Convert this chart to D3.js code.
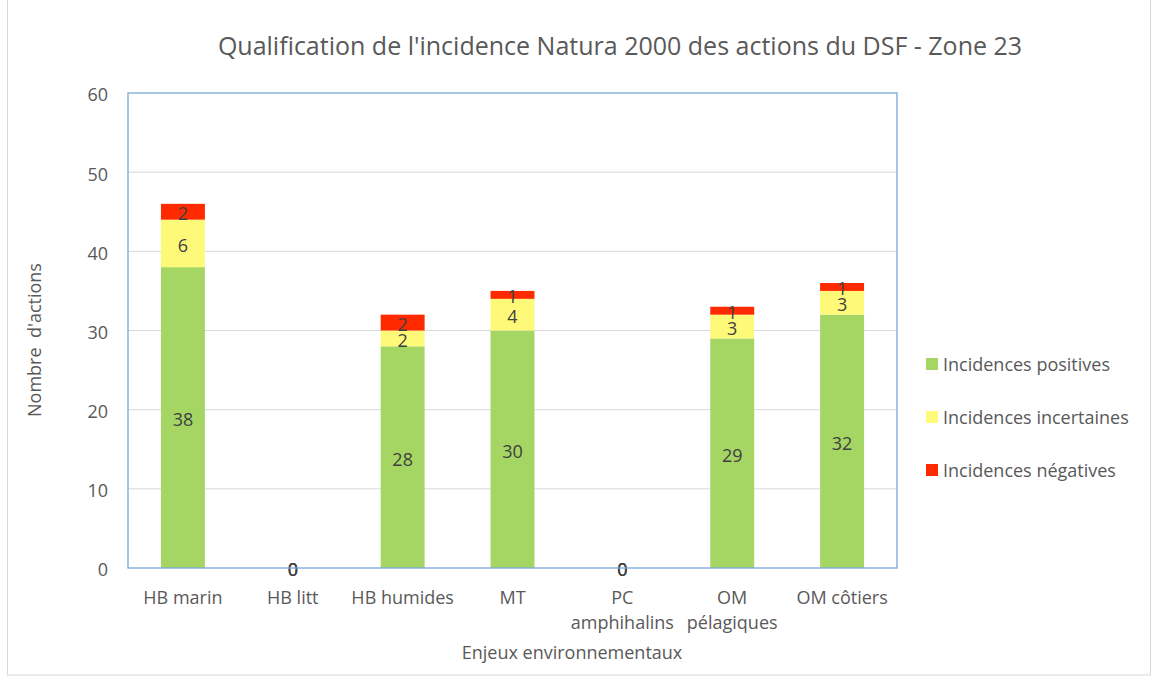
<!DOCTYPE html>
<html lang="fr">
<head>
<meta charset="UTF-8">
<title>Qualification de l'incidence Natura 2000</title>
<style>
  body { margin: 0; background: #fff; }
  svg text { font-family: "Open Sans", "Noto Sans", sans-serif; }
</style>
</head>
<body>
<svg width="1158" height="677"></svg>
<script src="https://cdn.jsdelivr.net/npm/d3@7"></script>
<script>
// categories (tick labels split on line breaks)
var categories = ["HB marin", "HB litt", "HB humides", "MT", "PC amphihalins", "OM pélagiques", "OM côtiers"];
var tickLabels = [["HB marin"], ["HB litt"], ["HB humides"], ["MT"], ["PC", "amphihalins"], ["OM", "pélagiques"], ["OM côtiers"]];

var positives = [38, 0, 28, 30, 0, 29, 32];
var incertaines = [6, 0, 2, 4, 0, 3, 3];
var negatives = [2, 0, 2, 1, 0, 1, 1];

var seriesNames = ["Incidences positives", "Incidences incertaines", "Incidences négatives"];
var seriesColors = ["#a5d664", "#fff97a", "#ff2a00"];
var yTicks = [0, 10, 20, 30, 40, 50, 60];

var fs = 18; // base font size

var svg = d3.select("svg");

// outer chart border
svg.append("rect")
    .attr("x", 7.5).attr("y", -1)
    .attr("width", 1143).attr("height", 676)
    .attr("fill", "none")
    .attr("stroke", "#d9d9d9");

var margin = {left: 128, top: 93, right: 897, bottom: 568};

var x = d3.scaleBand()
    .domain(categories)
    .range([margin.left, margin.right])
    .paddingInner(0.6)
    .paddingOuter(0.3);

var y = d3.scaleLinear()
    .domain([0, 60])
    .range([margin.bottom, margin.top]);

// grid lines
svg.append("g")
    .selectAll("line")
    .data(yTicks.slice(1, -1))
    .enter()
    .append("line")
    .attr("x1", margin.left).attr("x2", margin.right)
    .attr("y1", function(d) { return y(d); })
    .attr("y2", function(d) { return y(d); })
    .attr("stroke", "#d9d9d9")
    .attr("stroke-width", 1);

// stacked data
var rows = categories.map(function(c, i) {
    return {cat: c, pos: positives[i], inc: incertaines[i], neg: negatives[i]};
});
var stack = d3.stack().keys(["pos", "inc", "neg"]);
var layers = stack(rows);

var gBars = svg.append("g");
layers.forEach(function(layer, li) {
    gBars.selectAll(".bar" + li)
        .data(layer)
        .enter()
        .append("rect")
        .attr("x", function(d) { return x(d.data.cat); })
        .attr("width", x.bandwidth())
        .attr("y", function(d) { return y(d[1]); })
        .attr("height", function(d) { return y(d[0]) - y(d[1]); })
        .attr("fill", seriesColors[li]);
});

// segment labels
layers.forEach(function(layer, li) {
    gBars.selectAll(".lab" + li)
        .data(layer.filter(function(d) { return d[1] - d[0] > 0; }))
        .enter()
        .append("text")
        .attr("x", function(d) { return x(d.data.cat) + x.bandwidth() / 2; })
        .attr("y", function(d) { return (y(d[0]) + y(d[1])) / 2 + 2; })
        .attr("dy", "0.36em")
        .attr("text-anchor", "middle")
        .attr("font-size", fs)
        .attr("fill", "#404040")
        .text(function(d) { return d[1] - d[0]; });
});

// zero labels (three overlapping zeros)
layers.forEach(function(layer) {
    gBars.selectAll(null)
        .data(layer.filter(function(d) { return d[1] - d[0] === 0; }))
        .enter()
        .append("text")
        .attr("x", function(d) { return x(d.data.cat) + x.bandwidth() / 2; })
        .attr("y", y(0) + 2)
        .attr("dy", "0.36em")
        .attr("text-anchor", "middle")
        .attr("font-size", fs)
        .attr("fill", "#404040")
        .text("0");
});

// plot frame
svg.append("rect")
    .attr("x", margin.left).attr("y", margin.top)
    .attr("width", margin.right - margin.left)
    .attr("height", margin.bottom - margin.top)
    .attr("fill", "none")
    .attr("stroke", "#7ba7d7")
    .attr("stroke-width", 1.3);

// y axis labels
svg.append("g")
    .selectAll("text")
    .data(yTicks)
    .enter()
    .append("text")
    .attr("x", 108)
    .attr("y", function(d) { return y(d) + 2; })
    .attr("dy", "0.36em")
    .attr("text-anchor", "end")
    .attr("font-size", fs)
    .attr("fill", "#595959")
    .text(function(d) { return d; });

// x axis labels
var xl = svg.append("g")
    .selectAll("text")
    .data(categories)
    .enter()
    .append("text")
    .attr("x", function(d) { return x(d) + x.bandwidth() / 2; })
    .attr("y", 604)
    .attr("text-anchor", "middle")
    .attr("font-size", fs)
    .attr("fill", "#595959");
xl.each(function(d, i) {
    var t = d3.select(this);
    tickLabels[i].forEach(function(line, k) {
        t.append("tspan")
            .attr("x", x(d) + x.bandwidth() / 2)
            .attr("dy", k === 0 ? 0 : 25)
            .text(line);
    });
});

// axis titles
svg.append("text")
    .attr("x", 572).attr("y", 659)
    .attr("text-anchor", "middle")
    .attr("font-size", fs)
    .attr("fill", "#595959")
    .text("Enjeux environnementaux");

svg.append("text")
    .attr("transform", "translate(41,340) rotate(-90)")
    .attr("text-anchor", "middle")
    .attr("font-size", fs)
    .attr("fill", "#595959")
    .attr("xml:space", "preserve")
    .text("Nombre  d'actions");

// title
svg.append("text")
    .attr("x", 620).attr("y", 55)
    .attr("text-anchor", "middle")
    .attr("font-size", 25)
    .attr("fill", "#595959")
    .text("Qualification de l'incidence Natura 2000 des actions du DSF - Zone 23");

// legend
var legend = svg.append("g")
    .selectAll("g")
    .data(seriesNames)
    .enter()
    .append("g")
    .attr("transform", function(d, i) { return "translate(926," + (365 + i * 53) + ")"; });
legend.append("rect")
    .attr("x", 0).attr("y", -7)
    .attr("width", 12).attr("height", 12)
    .attr("fill", function(d, i) { return seriesColors[i]; });
legend.append("text")
    .attr("x", 17).attr("y", 0)
    .attr("dy", "0.36em")
    .attr("font-size", fs)
    .attr("fill", "#595959")
    .text(function(d) { return d; });
</script>
</body>
</html>
